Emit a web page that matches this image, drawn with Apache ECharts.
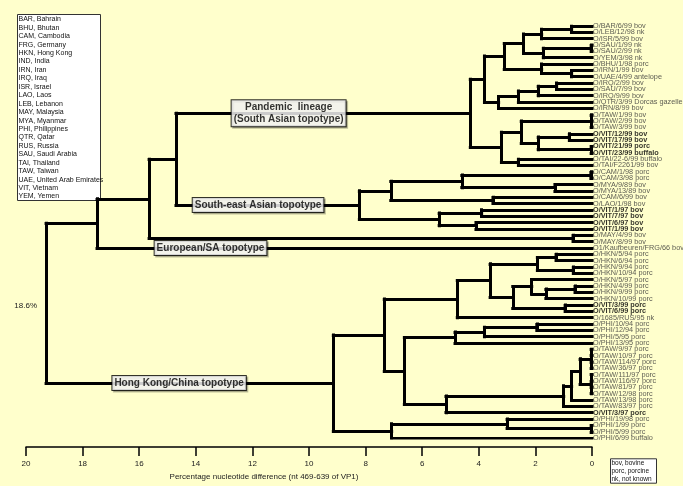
<!DOCTYPE html>
<html>
<head>
<meta charset="utf-8">
<script src="https://cdn.jsdelivr.net/npm/echarts@6/dist/echarts.min.js"></script>
<style>
  html, body { margin: 0; padding: 0; background: #FFFFCC; }
  #main { width: 683px; height: 486px; }
</style>
</head>
<body>
<div id="main"></div>
<script>
// leaf names, top to bottom
const leaves = [
  'O/BAR/6/99 bov', 'O/LEB/12/98 nk', 'O/ISR/5/99 bov', 'O/SAU/1/99 nk', 'O/SAU/2/99 nk',
  'O/YEM/3/98 nk', 'O/BHU/1/98 porc', 'O/IRN/1/99 bov', 'O/UAE/4/99 antelope', 'O/IRQ/2/99 bov',
  'O/SAU/7/99 bov', 'O/IRQ/9/99 bov', 'O/QTR/3/99 Dorcas gazelle', 'O/IRN/8/99 bov', 'O/TAW/1/99 bov',
  'O/TAW/2/99 bov', 'O/TAW/3/99 bov', 'O/VIT/12/99 bov', 'O/VIT/17/99 bov', 'O/VIT/21/99 porc',
  'O/VIT/23/99 buffalo', 'O/TAI/22-6/99 buffalo', 'O/TAI/F2261/99 bov', 'O/CAM/1/98 porc', 'O/CAM/3/98 porc',
  'O/MYA/9/89 bov', 'O/MYA/13/89 bov', 'O/CAM/6/99 bov', 'O/LAO/1/98 bov', 'O/VIT/1/97 bov',
  'O/VIT/7/97 bov', 'O/VIT/6/97 bov', 'O/VIT/1/99 bov', 'O/MAY/4/99 bov', 'O/MAY/8/99 bov',
  'O1/Kaufbeuren/FRG/66 bov', 'O/HKN/5/94 porc', 'O/HKN/6/94 porc', 'O/HKN/9/94 porc', 'O/HKN/10/94 porc',
  'O/HKN/5/97 porc', 'O/HKN/4/99 porc', 'O/HKN/9/99 porc', 'O/HKN/10/99 porc', 'O/VIT/3/99 porc',
  'O/VIT/6/99 porc', 'O/1685/RUS/95 nk', 'O/PHI/10/94 porc', 'O/PHI/12/94 porc', 'O/PHI/5/95 porc',
  'O/PHI/13/95 porc', 'O/TAW/9/97 porc', 'O/TAW/10/97 porc', 'O/TAW/114/97 porc', 'O/TAW/36/97 porc',
  'O/TAW/111/97 porc', 'O/TAW/116/97 porc', 'O/TAW/81/97 porc', 'O/TAW/12/98 porc', 'O/TAW/13/98 porc',
  'O/TAW/83/97 porc', 'O/VIT/3/97 porc', 'O/PHI/19/98 porc', 'O/PHI/1/99 porc', 'O/PHI/5/99 porc',
  'O/PHI/6/99 buffalo'
];
// Vietnamese isolates printed in bold
const boldLeaves = [17, 18, 19, 20, 29, 30, 31, 32, 44, 45, 61];

// internal nodes: [id, % difference, children (leaf index or node id)]
const nodes = [
  ['barleb', 0.72, [0, 1]],
  ['isr', 1.78, ['barleb', 2]],
  ['sau', 0.03, [3, 4]],
  ['yem', 1.72, ['sau', 5]],
  ['me1', 2.42, ['isr', 'yem']],
  ['iu', 0.72, [7, 8]],
  ['bhu', 1.78, [6, 'iu']],
  ['meA', 3.1, ['me1', 'bhu']],
  ['is', 1.25, [9, 10]],
  ['irq9', 1.9, ['is', 11]],
  ['qtr', 2.6, ['irq9', 12]],
  ['w', 3.3, ['qtr', 13]],
  ['meall', 3.8, ['meA', 'w']],
  ['taw', 0.03, [14, 15, 16]],
  ['v1', 0.8, [17, 18]],
  ['v2', 0.03, [19, 20]],
  ['vit', 1.9, ['v1', 'v2']],
  ['pansea', 2.5, ['taw', 'vit']],
  ['tai', 2.6, [21, 22]],
  ['z', 3.2, ['pansea', 'tai']],
  ['pan', 4.3, ['meall', 'z']],
  ['cam', 0.04, [23, 24]],
  ['mya', 1.31, [25, 26]],
  ['f', 4.6, ['cam', 'mya']],
  ['cl', 3.5, [27, 28]],
  ['e', 7.11, ['f', 'cl']],
  ['v97a', 3.9, [29, 30]],
  ['v97b', 4.1, [31, 32]],
  ['g', 5.4, ['v97a', 'v97b']],
  ['sea', 8.22, ['e', 'g']],
  ['c', 14.7, ['pan', 'sea']],
  ['may', 0.67, [33, 34]],
  ['b', 15.65, ['c', 'may']],
  ['a', 17.49, ['b', 35]],
  ['h56', 1.27, [36, 37]],
  ['h910', 0.66, [38, 39]],
  ['hk94', 1.93, ['h56', 'h910']],
  ['h499', 0.6, [41, 42]],
  ['h10', 1.63, ['h499', 43]],
  ['hk97', 2.13, [40, 'h10']],
  ['vit99', 0.95, [44, 45]],
  ['hkv', 2.8, ['hk97', 'vit99']],
  ['hkall', 3.6, ['hk94', 'hkv']],
  ['rus', 4.76, ['hkall', 46]],
  ['p1', 1.95, [47, 48]],
  ['p2', 3.8, ['p1', 49]],
  ['p3', 4.84, ['p2', 50]],
  ['t1', 0.03, [51, 52, 53, 54]],
  ['t2', 0.03, [55, 56, 57, 58]],
  ['t3', 0.42, ['t1', 't2']],
  ['t4', 0.72, ['t3', 59]],
  ['t5', 1.0, ['t4', 60]],
  ['t6', 5.16, ['t5', 61]],
  ['pt', 6.63, ['p3', 't6']],
  ['up', 7.34, ['rus', 'pt']],
  ['pp', 0.03, [63, 64]],
  ['p19', 3.0, [62, 'pp']],
  ['plow', 7.08, ['p19', 65]],
  ['hk', 9.14, ['up', 'plow']],
  ['root', 19.29, ['a', 'hk']]
];

// clade boxes: [text, node the box sits on, position along the branch]
const cladeTags = [
  ['Pandemic  lineage\n(South Asian topotype)', 'pan', 10.72],
  ['South-east Asian topotype', 'sea', 11.8],
  ['European/SA topotype', 35, 13.48],
  ['Hong Kong/China topotype', 'hk', 14.59]
];

const countries = [
  'BAR, Bahrain', 'BHU, Bhutan', 'CAM, Cambodia', 'FRG, Germany', 'HKN, Hong Kong', 'IND, India',
  'IRN, Iran', 'IRQ, Iraq', 'ISR, Israel', 'LAO, Laos', 'LEB, Lebanon', 'MAY, Malaysia',
  'MYA, Myanmar', 'PHI, Philippines', 'QTR, Qatar', 'RUS, Russia', 'SAU, Saudi Arabia', 'TAI, Thailand',
  'TAW, Taiwan', 'UAE, United Arab Emirates', 'VIT, Vietnam', 'YEM, Yemen'
];
const hostKey = ['bov, bovine', 'porc, porcine', 'nk, not known'];

const FONT = '"Liberation Sans", Arial, sans-serif';

const nodeMap = {};
nodes.forEach(n => { nodeMap[n[0]] = n; });
function yOf(k) {
  if (typeof k === 'number') return k;
  const kids = nodeMap[k][2];
  return (yOf(kids[0]) + yOf(kids[kids.length - 1])) / 2;
}
function dOf(k) {
  return typeof k === 'number' ? 0 : nodeMap[k][1];
}

// branch segments
const segs = [];
nodes.forEach(([id, d, kids]) => {
  segs.push([[d, yOf(kids[0])], [d, yOf(kids[kids.length - 1])]]);
  kids.forEach(k => segs.push([[d, yOf(k)], [dOf(k), yOf(k)]]));
});

const chart = echarts.init(document.getElementById('main'));
chart.setOption({
  backgroundColor: '#FFFFCC',
  animation: false,
  grid: { left: 26, right: 91, top: 26, bottom: 43.7 },
  xAxis: {
    type: 'value', min: 0, max: 20, interval: 2, inverse: true,
    position: 'bottom',
    offset: 9,
    splitLine: { show: false },
    axisLine: { onZero: false, lineStyle: { color: '#000', width: 1.5 } },
    axisTick: { length: 9, lineStyle: { color: '#000', width: 1.5 } },
    axisLabel: { color: '#222', fontSize: 8, fontFamily: FONT, margin: 13 },
    name: 'Percentage nucleotide difference (nt 469-639 of VP1)',
    nameLocation: 'middle',
    nameGap: 24,
    nameTextStyle: { color: '#222', fontSize: 8, fontFamily: FONT, padding: [0, 90, 0, 0] }
  },
  yAxis: { type: 'value', min: 0, max: 65, inverse: true, show: false },
  series: [
    {
      type: 'lines',
      coordinateSystem: 'cartesian2d',
      silent: true,
      lineStyle: { color: '#000', width: 3, opacity: 1, cap: 'square' },
      data: segs.map(c => ({ coords: c }))
    },
    {
      type: 'scatter',
      symbolSize: 0,
      silent: true,
      data: leaves.map((name, i) => ({
        value: [0, i],
        name: name,
        label: boldLeaves.includes(i) ? { fontWeight: 'bold', color: '#000' } : {}
      })),
      label: {
        show: true, position: 'right', distance: 1,
        formatter: p => p.name,
        fontSize: 7.3, fontFamily: FONT, color: '#333'
      }
    },
    {
      type: 'scatter',
      symbolSize: 0,
      silent: true,
      z: 5,
      data: cladeTags.map(t => ({ value: [t[2], yOf(t[1])], name: t[0] })),
      label: {
        show: true, position: 'inside',
        formatter: p => p.name,
        fontSize: 10, fontWeight: 'bold', fontFamily: FONT, color: '#000',
        lineHeight: 12, align: 'center',
        backgroundColor: '#fff', borderColor: '#000', borderWidth: 1,
        padding: [1, 2, 1, 2],
        shadowColor: 'rgba(0,0,0,0.3)', shadowOffsetX: 1.5, shadowOffsetY: 1.5
      }
    }
  ],
  graphic: [
    {
      type: 'rect', left: 17, top: 14,
      shape: { width: 83, height: 186 },
      style: { fill: '#fff', stroke: '#333', lineWidth: 1 }
    },
    {
      type: 'text', left: 18.5, top: 15.1,
      style: { text: countries.join('\n'), fill: '#111', font: '7px ' + FONT, lineHeight: 8.44 }
    },
    {
      type: 'text', x: 37, y: 306,
      style: { text: '18.6%', fill: '#222', font: '8px ' + FONT, align: 'right', verticalAlign: 'middle' }
    },
    {
      type: 'rect', left: 610, top: 458.3,
      shape: { width: 46, height: 24.4 },
      style: { fill: '#fff', stroke: '#333', lineWidth: 1 }
    },
    {
      type: 'text', left: 611.5, top: 458.6,
      style: { text: hostKey.join('\n'), fill: '#111', font: '6.5px ' + FONT, lineHeight: 8.3 }
    }
  ]
});
</script>
</body>
</html>
